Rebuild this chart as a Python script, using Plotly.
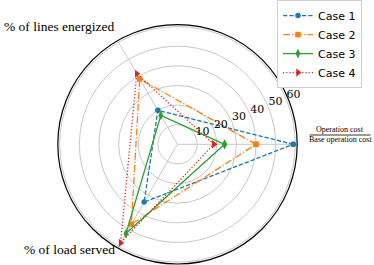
import plotly.graph_objects as go

categories = ["Operation cost / Base operation cost", "% of lines energized", "% of load served"]
theta_deg = [0, 120, 240]
case_names = ["Case 1", "Case 2", "Case 3", "Case 4"]
case1 = [59, 20, 34]
case2 = [40, 38.5, 47]
case3 = [24, 17, 52.5]
case4 = [18.5, 41.5, 58]
radial_ticks = [10, 20, 30, 40, 50, 60]

series = [case1, case2, case3, case4]
colors = ["#1f77b4", "#ff7f0e", "#2ca02c", "#d62728"]
dashes = ["4.4px,1.9px", "7px,2px,1.2px,2px", "solid", "1.2px,2px"]
symbols = ["circle", "square", "diamond-tall", "triangle-right"]
msizes = [5.5, 5.5, 7, 7]

W, H = 374, 265
dom_x = [0.1484, 0.8008]
dom_y = [0.0038, 0.9245]
lab_dx = 17 / W  # shift of the overlay that carries the radial tick labels

fig = go.Figure()
for name, vals, c, d, s, ms in zip(case_names, series, colors, dashes, symbols, msizes):
    fig.add_trace(go.Scatterpolar(
        r=vals + vals[:1], theta=theta_deg + theta_deg[:1], name=name,
        mode="lines+markers",
        line=dict(color=c, width=1.3, dash=d),
        marker=dict(color=c, symbol=s, size=ms, line=dict(width=0)),
    ))
# empty trace so the label overlay subplot is rendered
fig.add_trace(go.Scatterpolar(r=[None], theta=[None], subplot="polar2",
                              showlegend=False, hoverinfo="skip", mode="markers"))

fig.update_layout(
    width=W, height=H,
    margin=dict(l=0, r=0, t=0, b=0),
    paper_bgcolor="white",
    showlegend=True,
    legend=dict(
        x=277 / W, y=1 + 5 / H, xanchor="left", yanchor="top",
        bgcolor="white", bordercolor="#d0d0d0", borderwidth=1,
        font=dict(family="DejaVu Sans", size=11, color="black"),
        itemwidth=30, tracegroupgap=0,
    ),
    polar=dict(
        domain=dict(x=dom_x, y=dom_y),
        bgcolor="white",
        radialaxis=dict(
            range=[0, 61], tickvals=radial_ticks, showticklabels=False,
            showline=False, ticks="", gridcolor="#c8c8c8", gridwidth=0.8,
        ),
        angularaxis=dict(
            thetaunit="degrees", direction="counterclockwise", rotation=0,
            tickvals=theta_deg, showticklabels=False, ticks="",
            gridcolor="#c8c8c8", gridwidth=0.8,
            showline=True, linecolor="black", linewidth=1.2,
        ),
    ),
    polar2=dict(
        domain=dict(x=[dom_x[0] + lab_dx, dom_x[1] + lab_dx], y=dom_y),
        bgcolor="rgba(0,0,0,0)",
        radialaxis=dict(
            range=[0, 61], tickvals=radial_ticks, angle=22, tickangle=22,
            showline=False, showgrid=False, ticks="",
            tickfont=dict(family="DejaVu Serif", size=11, color="black"),
            side="counterclockwise",
        ),
        angularaxis=dict(visible=False, showgrid=False, showline=False,
                         thetaunit="degrees"),
    ),
)

serif = dict(family="Liberation Serif", size=13.5, color="black")
fig.add_annotation(text=categories[1], x=2 / W, y=1 - 22 / H, xref="paper", yref="paper",
                   xanchor="left", yanchor="middle", showarrow=False, font=serif)
fig.add_annotation(text=categories[2], x=22 / W, y=1 - 249 / H, xref="paper", yref="paper",
                   xanchor="left", yanchor="middle", showarrow=False, font=serif)
num, den = categories[0].split(" / ")
small = dict(family="Liberation Serif", size=8, color="black")
fig.add_annotation(text=num, x=340 / W, y=1 - 127 / H, xref="paper", yref="paper",
                   xanchor="center", yanchor="middle", showarrow=False, font=small)
fig.add_annotation(text=den, x=340 / W, y=1 - 137.5 / H, xref="paper", yref="paper",
                   xanchor="center", yanchor="middle", showarrow=False, font=small)
fig.add_shape(type="line", xref="paper", yref="paper",
              x0=309.5 / W, x1=370.5 / W, y0=1 - 132.5 / H, y1=1 - 132.5 / H,
              line=dict(color="black", width=0.8))

fig.write_html("out.html", config={"displayModeBar": False},
               post_script="document.body.style.margin='0';")
